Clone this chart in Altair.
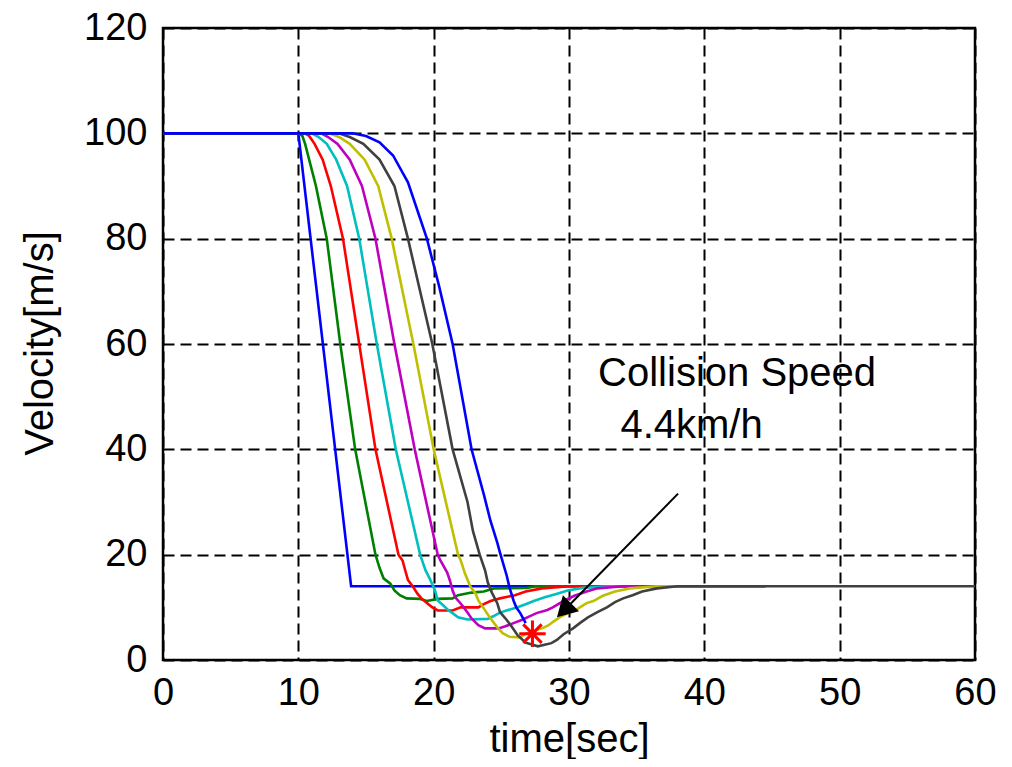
import altair as alt
import pandas as pd

# ---- data ----
colors = ["#0000FF", "#008000", "#FF0000", "#00BFBF", "#BF00BF", "#BFBF00", "#404040", "#0000FF"]

s1_x = [0, 10.0, 13.9, 44.5]
s1_y = [100, 100, 14.0, 14.0]

s2_x = [0, 10.0, 10.3, 10.5, 10.8, 11.3, 12.1, 13.1, 14.2, 15.7, 16.0, 16.3, 16.8, 17.1, 17.5, 18.0, 19.0, 19.5, 20.3, 21.4, 21.8, 22.8, 23.7, 24.5, 26.9, 27.5, 44.5]
s2_y = [100, 100, 99.5, 98, 95, 90, 80, 60, 40, 20, 17.5, 15.5, 14.5, 13.2, 12.3, 11.7, 11.6, 11.2, 11.6, 11.7, 12.3, 12.8, 13.0, 13.6, 13.7, 14.0, 14.0]

s3_x = [0, 10.5, 10.8, 11.2, 11.8, 12.4, 13.3, 14.5, 15.7, 17.4, 17.7, 17.9, 18.1, 18.5, 18.8, 19.1, 19.5, 19.9, 20.3, 21.4, 22.0, 23.3, 23.7, 24.2, 24.9, 26.0, 26.8, 28.0, 30.0, 44.5]
s3_y = [100, 100, 99.5, 98, 95, 90, 80, 60, 40, 20, 18.9, 17.0, 15.2, 13.8, 12.6, 11.7, 10.8, 10.0, 9.4, 9.4, 10.0, 10.0, 10.6, 11.2, 11.7, 12.3, 13.0, 13.6, 14.0, 14.0]

s4_x = [0, 11.0, 11.5, 12.1, 12.8, 13.6, 14.5, 15.8, 17.2, 19.0, 19.4, 19.7, 20.1, 20.3, 20.7, 21.1, 21.4, 21.8, 22.5, 24.0, 24.4, 24.9, 25.5, 26.2, 26.8, 27.4, 28.2, 29.0, 29.9, 31.0, 33.0, 44.5]
s4_y = [100, 100, 99.3, 98, 95, 90, 80, 60, 40, 20, 17.0, 15.5, 13.2, 11.3, 10.4, 9.4, 8.9, 8.1, 7.7, 7.8, 8.3, 9.0, 9.5, 10.0, 10.6, 11.2, 11.9, 12.5, 13.2, 13.7, 14.0, 14.0]

s5_x = [0, 11.7, 12.2, 12.9, 13.8, 14.7, 15.7, 17.1, 18.6, 20.3, 20.5, 21.0, 21.2, 21.4, 21.6, 22.1, 22.5, 22.8, 23.3, 23.8, 24.8, 25.3, 25.9, 26.5, 27.0, 27.6, 28.4, 28.8, 29.6, 30.4, 31.3, 32.1, 34.0, 44.5]
s5_y = [100, 100, 99.3, 98, 95, 90, 80, 60, 40, 20, 18.9, 16.6, 15.1, 13.2, 11.9, 10.4, 9.0, 7.9, 6.6, 6.0, 6.0, 6.4, 7.0, 7.6, 8.2, 8.9, 9.5, 10.0, 11.2, 12.2, 13.0, 13.6, 14.0, 14.0]

s6_x = [0, 12.3, 13.0, 13.8, 14.9, 15.9, 16.9, 18.5, 20.0, 21.8, 22.0, 22.3, 22.7, 23.1, 23.3, 23.7, 24.2, 24.7, 25.1, 25.6, 26.4, 26.8, 28.0, 28.5, 28.8, 29.3, 29.9, 30.5, 30.8, 31.3, 31.8, 32.5, 33.4, 34.5, 36.5, 44.5]
s6_y = [100, 100, 99.3, 98, 95, 90, 80, 60, 40, 20, 18.9, 16.5, 14.0, 12.6, 11.3, 9.8, 7.9, 6.2, 5.1, 4.4, 4.3, 5.0, 6.0, 6.6, 7.2, 8.1, 8.9, 9.5, 10.0, 10.8, 11.2, 12.2, 13.0, 13.6, 14.0, 14.0]

s7_x = [0, 13.0, 13.8, 14.8, 16.0, 17.1, 18.1, 19.9, 21.4, 22.5, 22.9, 23.4, 23.8, 24.0, 24.3, 24.7, 24.9, 25.4, 25.8, 26.2, 26.8, 27.7, 28.7, 29.1, 29.6, 30.3, 30.8, 31.4, 32.1, 32.8, 33.4, 34.0, 34.7, 35.4, 36.5, 38.0, 60.0]
s7_y = [100, 100, 99.3, 98, 95, 90, 80, 60, 40, 30, 24.5, 20, 17, 14.7, 12.8, 10.8, 9.1, 7.6, 6.2, 4.7, 3.3, 2.6, 3.2, 3.8, 4.9, 6.0, 7.0, 8.1, 9.1, 10.0, 11.0, 11.7, 12.3, 13.0, 13.6, 14.0, 14.0]

s8_x = [0, 14.0, 15.0, 16.0, 17.0, 18.1, 19.5, 20.4, 21.4, 22.8, 23.7, 24.2, 24.7, 24.9, 25.4, 25.6, 25.9, 26.1, 26.4, 26.8]
s8_y = [100, 100, 99.5, 98.3, 95.8, 90.7, 80, 71, 60, 40, 31.5, 26.4, 22.3, 20.4, 16.0, 13.8, 11.3, 10.0, 8.9, 7.0]

series_x = [s1_x, s2_x, s3_x, s4_x, s5_x, s6_x, s7_x, s8_x]
series_y = [s1_y, s2_y, s3_y, s4_y, s5_y, s6_y, s7_y, s8_y]

star_x = [27.3]
star_y = [5.0]

arrow_x = [38.06]
arrow_y = [31.6]
arrow_x2 = [29.6]
arrow_y2 = [9.3]
head_x = [29.8]
head_y = [9.9]

ann_text = ["Collision Speed", "4.4km/h"]
ann_x = [32.15, 33.8]
ann_y = [52.1, 42.2]

x_ticks = [0, 10, 20, 30, 40, 50, 60]
y_ticks = [0, 20, 40, 60, 80, 100, 120]

FONT = "Liberation Sans"

xscale = alt.Scale(domain=[0, 60], nice=False, zero=False)
yscale = alt.Scale(domain=[0, 120], nice=False, zero=False)

x_axis = alt.Axis(values=x_ticks, title="time[sec]", grid=True, gridColor="black",
                  gridDash=[11, 6], gridWidth=2, gridOpacity=1, domain=False, ticks=False,
                  labelFont=FONT, labelFontSize=38, labelColor="black", labelPadding=14,
                  labelFlush=False,
                  titleFont=FONT, titleFontSize=40, titleFontWeight="normal", titleColor="black",
                  titleX=406, titleY=91, titleAlign="center", titleBaseline="alphabetic")
y_axis = alt.Axis(values=y_ticks, title="Velocity[m/s]", grid=True, gridColor="black",
                  gridDash=[11, 6], gridWidth=2, gridOpacity=1, domain=False, ticks=False,
                  labelFont=FONT, labelFontSize=38, labelColor="black", labelPadding=16,
                  labelFlush=False,
                  titleFont=FONT, titleFontSize=40, titleFontWeight="normal", titleColor="black",
                  titleAngle=270, titleX=-111, titleY=315, titleAlign="center",
                  titleBaseline="alphabetic")


def X(field):
    return alt.X(field, scale=xscale, axis=x_axis)


def Y(field):
    return alt.Y(field, scale=yscale, axis=y_axis)


layers = []
for i, (xs, ys) in enumerate(zip(series_x, series_y)):
    df = pd.DataFrame({"t": xs, "v": ys, "order": list(range(len(xs)))})
    layers.append(
        alt.Chart(df).mark_line(color=colors[i], strokeWidth=2.6, clip=True)
        .encode(x=X("t:Q"), y=Y("v:Q"), order="order:Q")
    )

arrow_df = pd.DataFrame({"t": arrow_x, "v": arrow_y, "t2": arrow_x2, "v2": arrow_y2})
arrow = alt.Chart(arrow_df).mark_rule(color="black", strokeWidth=2).encode(
    x=X("t:Q"), y=Y("v:Q"), x2="t2:Q", y2="v2:Q")

head_df = pd.DataFrame({"t": head_x, "v": head_y})
head = alt.Chart(head_df).mark_point(shape="triangle", filled=True, color="black",
                                     opacity=1, size=520, angle=225).encode(
    x=X("t:Q"), y=Y("v:Q"))

star_df = pd.DataFrame({"t": star_x, "v": star_y})
star = alt.Chart(star_df).mark_point(
    shape="M-1,0L1,0M0,-1L0,1M-0.7,-0.7L0.7,0.7M-0.7,0.7L0.7,-0.7",
    filled=False, color="#FF0000", opacity=1, size=700, strokeWidth=3).encode(
    x=X("t:Q"), y=Y("v:Q"))

ann_df = pd.DataFrame({"t": ann_x, "v": ann_y, "label": ann_text})
ann = alt.Chart(ann_df).mark_text(font=FONT, fontSize=40, color="black", align="left",
                                  baseline="alphabetic").encode(
    x=X("t:Q"), y=Y("v:Q"), text="label:N")

chart = alt.layer(*layers, arrow, head, star, ann).properties(
    width=812, height=632,
    autosize=alt.AutoSizeParams(type="none"),
    padding={"left": 155, "top": 20, "right": 28, "bottom": 99},
    background="white",
).configure_view(stroke="black", strokeWidth=2.5)

chart.save("out.html", embed_options={"renderer": "svg", "actions": False})
